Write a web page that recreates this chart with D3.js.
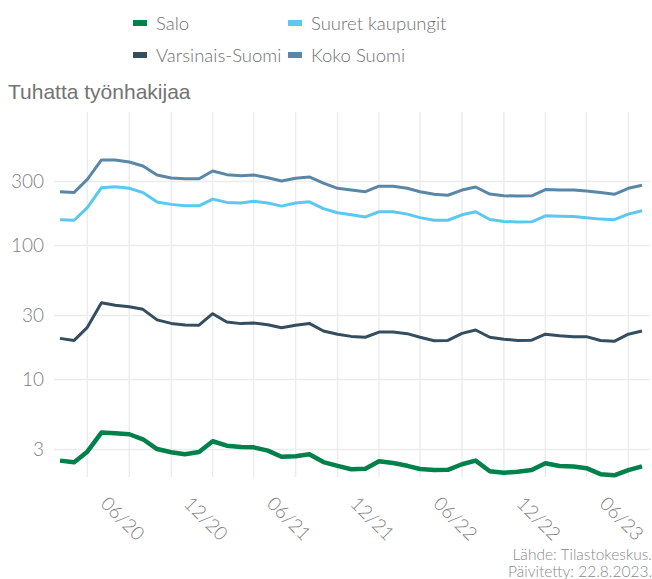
<!DOCTYPE html>
<html>
<head>
<meta charset="utf-8">
<script src="https://cdn.jsdelivr.net/npm/d3@7"></script>
<style>
  body { margin: 0; background: #fff; }
  svg { display: block; }
  .tick text { font-family: Lato, "Open Sans", sans-serif; font-weight: 300; fill: #808080; }
</style>
</head>
<body>
<svg id="chart" width="652" height="579"></svg>
<script>
  // kuukaudet 1/2020 - 7/2023
  var nMonths = 43;
  var months = d3.range(nMonths).map(function (i) {
    return new Date(2020, i, 1);
  });

  var seriesNames = ['Salo', 'Suuret kaupungit', 'Varsinais-Suomi', 'Koko Suomi'];
  var seriesColors = ['#00804a', '#5bc8f0', '#344d5f', '#5a87a6'];
  var yTicks = [3, 10, 30, 100, 300];

  // tuhatta työnhakijaa
  var salo = [2.46, 2.39, 2.87, 3.98, 3.93, 3.87, 3.55, 3.00, 2.84, 2.74, 2.85, 3.43,
    3.18, 3.11, 3.09, 2.92, 2.63, 2.65, 2.74, 2.40, 2.25, 2.12, 2.14, 2.43,
    2.36, 2.25, 2.13, 2.09, 2.10, 2.31, 2.46, 2.05, 2.00, 2.03, 2.09, 2.35,
    2.24, 2.22, 2.16, 1.95, 1.91, 2.09, 2.23];
  var suuretKaupungit = [154, 153, 190, 268, 272, 265, 246, 209, 201, 196, 196, 220,
    208, 206, 212, 206, 195, 206, 210, 187, 174, 168, 162, 177,
    177, 170, 160, 153, 153, 168, 177, 155, 150, 148.5, 149, 165,
    164, 163, 160, 156, 154.5, 170, 180];
  var varsinaisSuomi = [20.1, 19.4, 24.3, 37.1, 35.5, 34.6, 33.1, 27.6, 26.0, 25.3, 25.2, 30.7,
    26.6, 25.9, 26.2, 25.4, 24.1, 25.2, 26.0, 22.8, 21.6, 20.8, 20.5, 22.4,
    22.4, 21.8, 20.5, 19.3, 19.4, 21.9, 23.2, 20.5, 19.8, 19.4, 19.5, 21.6,
    21.0, 20.7, 20.7, 19.4, 19.1, 21.6, 22.8];
  var kokoSuomi = [250, 247, 309, 431, 431, 416, 389, 333, 316, 312, 312, 357,
    335, 329, 333, 318, 300, 315, 322, 290, 265, 257, 250, 275,
    274, 265, 250, 239, 235, 257, 271, 240, 233, 232, 233, 259,
    257, 257, 253, 246, 239, 265, 279];

  var allSeries = [salo, suuretKaupungit, varsinaisSuomi, kokoSuomi];

  var svg = d3.select('#chart');

  var panel = { left: 54, right: 650, top: 112, bottom: 477 };

  var x = d3.scaleTime()
    .domain([months[0], months[nMonths - 1]])
    .range([60, 642]);

  var y = d3.scaleLog()
    .domain([10, 100])
    .range([379, 245]);

  // ruudukko: pystyviivat joka 3. kk
  var gridMonths = months.filter(function (d) { return d.getMonth() % 3 === 2; });
  var labelMonths = months.filter(function (d) { return d.getMonth() % 6 === 5; });

  svg.append('g')
    .selectAll('line')
    .data(gridMonths)
    .enter()
    .append('line')
    .attr('x1', function (d) { return x(d); })
    .attr('x2', function (d) { return x(d); })
    .attr('y1', panel.top)
    .attr('y2', panel.bottom)
    .attr('stroke', '#ececec')
    .attr('stroke-width', 1.4);

  // y-akseli
  var yAxis = svg.append('g')
    .attr('transform', 'translate(' + panel.left + ',0)')
    .call(d3.axisLeft(y)
      .tickValues(yTicks)
      .tickFormat(d3.format('d'))
      .tickSize(-(panel.right - panel.left))
      .tickPadding(10));
  yAxis.select('.domain').remove();
  yAxis.selectAll('.tick line').attr('stroke', '#ececec').attr('stroke-width', 1.4);
  yAxis.selectAll('.tick text').style('font-size', '19px');

  // x-akselin tekstit
  svg.append('g')
    .selectAll('text')
    .data(labelMonths)
    .enter()
    .append('text')
    .attr('transform', function (d) {
      return 'translate(' + (x(d) - 6) + ',518) rotate(45)';
    })
    .attr('text-anchor', 'middle')
    .attr('dominant-baseline', 'central')
    .style('font-family', 'Lato, sans-serif')
    .style('font-weight', 300)
    .style('font-size', '19px')
    .style('fill', '#808080')
    .text(d3.timeFormat('%m/%y'));

  // viivat
  var line = d3.line()
    .x(function (d, i) { return x(months[i]); })
    .y(function (d) { return y(d); });

  var drawOrder = [3, 1, 2, 0];
  drawOrder.forEach(function (k) {
    svg.append('path')
      .datum(allSeries[k])
      .attr('d', line)
      .attr('fill', 'none')
      .attr('stroke', seriesColors[k])
      .attr('stroke-width', k === 0 ? 4.5 : 3)
      .attr('stroke-linejoin', 'round');
  });

  // selite
  var legend = svg.append('g')
    .selectAll('g')
    .data(seriesNames)
    .enter()
    .append('g')
    .attr('transform', function (d, i) {
      var col = i % 2, row = Math.floor(i / 2);
      return 'translate(' + (133 + col * 155) + ',' + (23 + row * 32) + ')';
    });
  legend.append('rect')
    .attr('x', 0)
    .attr('y', -3)
    .attr('width', 14)
    .attr('height', 6)
    .attr('fill', function (d, i) { return seriesColors[i]; });
  legend.append('text')
    .attr('x', 23)
    .attr('dominant-baseline', 'central')
    .style('font-family', 'Lato, sans-serif')
    .style('font-weight', 300)
    .style('font-size', '18.5px')
    .style('fill', '#707070')
    .text(function (d) { return d; });

  // otsikko
  svg.append('text')
    .attr('x', 8)
    .attr('y', 99)
    .style('font-family', '"Liberation Sans Narrow", "Liberation Sans", sans-serif')
    .style('font-size', '21px')
    .style('fill', '#737373')
    .text('Tuhatta työnhakijaa');

  // lähde
  var caption = svg.append('text')
    .attr('text-anchor', 'end')
    .style('font-family', 'Lato, sans-serif')
    .style('font-weight', 300)
    .style('font-size', '15.5px')
    .style('fill', '#8a8a8a');
  caption.append('tspan').attr('x', 652).attr('y', 560).text('Lähde: Tilastokeskus.');
  caption.append('tspan').attr('x', 652).attr('y', 577).text('Päivitetty: 22.8.2023.');
</script>
</body>
</html>
